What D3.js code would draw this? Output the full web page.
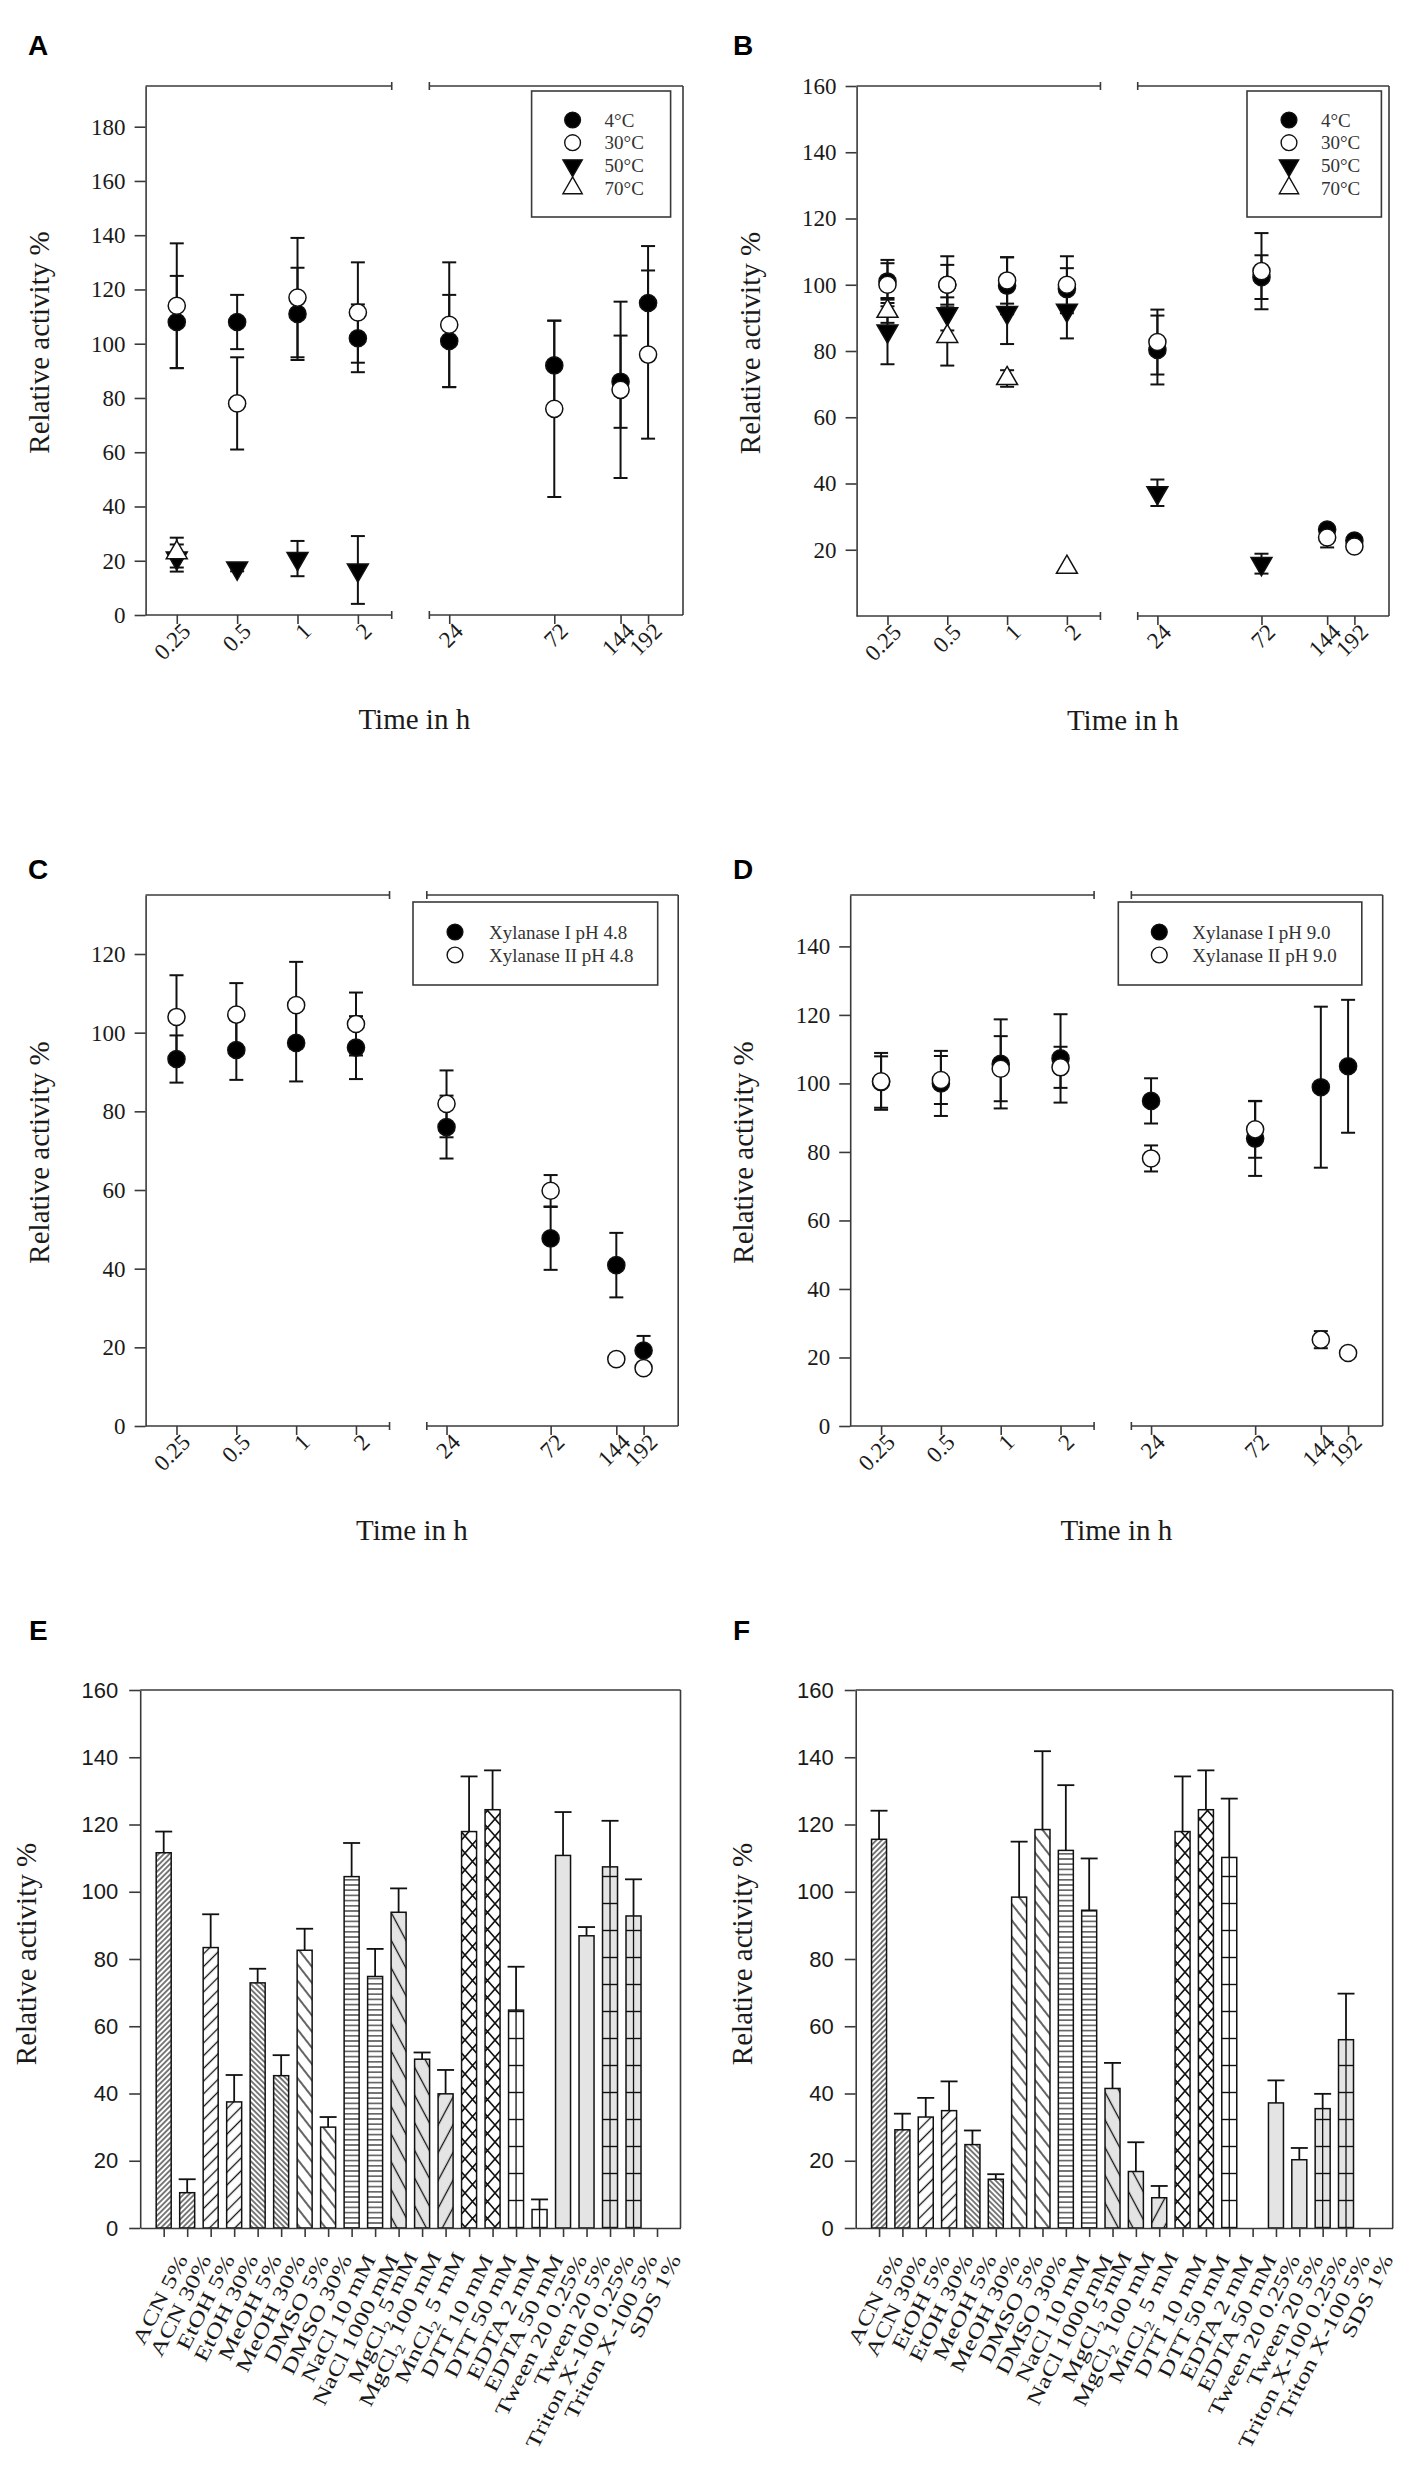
<!DOCTYPE html>
<html>
<head>
<meta charset="utf-8">
<script src="https://cdn.jsdelivr.net/npm/d3@7"></script>
<style>
  body { margin: 0; background: #fff; }
  text { fill: #1a1a1a; }
</style>
</head>
<body>
<div class="canvas"></div>
<script>
// ---------- data ----------
const times = [0.25, 0.5, 1, 2, 24, 72, 144, 192]
const timeLabels = ['0.25', '0.5', '1', '2', '24', '72', '144', '192']

// A : temperature stability
const aNames = ['4°C', '30°C', '50°C', '70°C']
const a4 = [108, 108, 111, 102, 101, 92, 86, 115]
const a4Err = [17, 10, 17, 12.5, 17, 16.5, 17, 21]
const a30 = [114, 78, 117, 111.5, 107, 76, 83, 96]
const a30Err = [23, 17, 22, 18.5, 23, 32.5, 32.5, 31]
const a50 = [21, 17.3, 20.8, 16.6, null, null, null, null]
const a50Err = [5, 1.2, 6.5, 12.5, null, null, null, null]
const a70 = [23, null, null, null, null, null, null, null]
const a70Err = [5.5, null, null, null, null, null, null, null]

// B : temperature stability
const bNames = ['4°C', '30°C', '50°C', '70°C']
const b4 = [101, 100, 99.7, 98.7, 80.3, 102.3, 26.1, 22.8]
const b4Err = [6.5, 6, 8.6, 6.3, 10.4, 6.6, 1, 1]
const b30 = [100, 100, 101.3, 100, 82.7, 104.1, 23.7, 21]
const b30Err = [6.5, 8.6, 7, 8.6, 9.8, 11.5, 3, 1]
const b50 = [86, 91.2, 91.6, 92.3, 37.2, 15.8, null, null]
const b50Err = [10, 5, 9.5, 8.5, 4, 3, null, null]
const b70 = [92, 84.4, 71.7, 14.7, null, null, null, null]
const b70Err = [3.5, 8.8, 2.5, 0.5, null, null, null, null]

// C : pH 4.8
const cNames = ['Xylanase I pH 4.8', 'Xylanase II pH 4.8']
const c1 = [93.3, 95.6, 97.4, 96.2, 76, 47.7, 40.9, 19.2]
const c1Err = [6, 7.6, 9.8, 8, 8, 8, 8.2, 3.7]
const c2 = [104, 104.6, 107, 102.2, 81.9, 59.8, 17, 14.7]
const c2Err = [10.6, 8, 11, 8, 8.5, 4, 0.5, 0.5]

// D : pH 9.0
const dNames = ['Xylanase I pH 9.0', 'Xylanase II pH 9.0']
const d1 = [100.4, 100, 105.7, 107.3, 94.9, 83.9, 98.9, 105]
const d1Err = [7.5, 9.5, 13, 12.9, 6.6, 10.9, 23.5, 19.4]
const d2 = [100.6, 101, 104.3, 104.7, 78.1, 86.6, 25.2, 21.3]
const d2Err = [8.3, 7, 9.5, 6, 3.8, 8.3, 2.5, 0.5]

// E, F : additives
const agents = ['ACN 5%', 'ACN 30%', 'EtOH 5%', 'EtOH 30%', 'MeOH 5%', 'MeOH 30%',
  'DMSO 5%', 'DMSO 30%', 'NaCl 10 mM', 'NaCl 1000 mM', 'MgCl2 5 mM', 'MgCl2 100 mM',
  'MnCl2 5 mM', 'DTT 10 mM', 'DTT 50 mM', 'EDTA 2 mM', 'EDTA 50 mM',
  'Tween 20 0.25%', 'Tween 20 5%', 'Triton X-100 0.25%', 'Triton X-100 5%', 'SDS 1%']
const eVals = [111.6, 10.5, 83.4, 37.5, 72.9, 45.3, 82.6, 30, 104.5, 74.8, 93.9, 50.2,
  39.9, 117.9, 124.4, 64.8, 5.5, 110.8, 86.9, 107.4, 92.8, 0]
const eErr = [6.3, 4, 9.9, 8, 4.2, 6.1, 6.4, 3, 10, 8.2, 7.1, 2,
  7.1, 16.4, 11.7, 12.9, 3, 12.9, 2.6, 13.7, 10.9, 0]
const fVals = [115.6, 29.2, 33, 34.9, 24.8, 14.5, 98.4, 118.5, 112.3, 94.5, 41.5, 16.8,
  9, 117.9, 124.4, 110.2, 0, 37.2, 20.3, 35.5, 56, 0]
const fErr = [8.5, 4.8, 5.7, 8.7, 4.2, 1.5, 16.5, 23.3, 19.4, 15.4, 7.6, 8.7,
  3.5, 16.4, 11.7, 17.5, 0, 6.7, 3.5, 4.4, 13.7, 0]

const yTitle = 'Relative activity %'
const xTitle = 'Time in h'

// ---------- page ----------
const W = 1421, H = 2475
const serif = '"Liberation Serif", "Times New Roman", serif'
const sans = '"Liberation Sans", Arial, sans-serif'

const svg = d3.select('.canvas').append('svg').attr('width', W).attr('height', H)
const defs = svg.append('defs')

const axisColor = '#3a3a3a'
const grey = '#e4e4e4'

// hatch patterns for the additive groups
const stripe = (id, period, angle, bg, sw) => {
  const p = defs.append('pattern').attr('id', id).attr('patternUnits', 'userSpaceOnUse')
    .attr('width', period).attr('height', period).attr('patternTransform', `rotate(${angle})`)
  p.append('rect').attr('width', period).attr('height', period).attr('fill', bg)
  p.append('line').attr('x1', -1).attr('x2', period + 1).attr('y1', period / 2).attr('y2', period / 2)
    .attr('stroke', '#111').attr('stroke-width', sw)
}
stripe('pACN', 3.8, -45, '#fff', 1.1)
stripe('pEtOH', 9, -45, '#fff', 1.3)
stripe('pMeOH', 3.8, 45, '#fff', 1.1)
stripe('pDMSO', 10, 52, '#fff', 1.3)
stripe('pNaCl', 5.2, 0, '#fff', 1.1)
stripe('pMgCl2', 13, 62, grey, 1.3)
stripe('pMnCl2', 13, -62, grey, 1.3)
stripe('pEDTA', 27, 0, '#fff', 1.4)
stripe('pTriton', 27, 0, grey, 1.4)
// cross hatch
const ch = defs.append('pattern').attr('id', 'pDTT').attr('patternUnits', 'userSpaceOnUse')
  .attr('width', 15).attr('height', 17)
ch.append('rect').attr('width', 15).attr('height', 17).attr('fill', '#fff')
ch.append('path').attr('d', 'M0,0 L15,17 M15,0 L0,17').attr('stroke', '#111').attr('stroke-width', 1.6)

const fillFor = name => {
  const g = name.split(' ')[0]
  if (g === 'Tween') return grey
  if (g === 'SDS') return '#fff'
  return `url(#p${g})`
}
const centerLine = name => ['EDTA', 'Triton'].includes(name.split(' ')[0])

// ---------- helpers ----------
const letter = (t, x, y) => svg.append('text').attr('x', x).attr('y', y).text(t)
  .attr('font-family', sans).attr('font-weight', 'bold').attr('font-size', 28).style('fill', '#000')

const yLabel = (x, y) => svg.append('text').attr('transform', `translate(${x},${y}) rotate(-90)`)
  .attr('text-anchor', 'middle').attr('font-family', serif).attr('font-size', 29).text(yTitle)

const symbols = {
  fc: { type: d3.symbolCircle, size: 230, fill: '#000', rot: 0 },
  oc: { type: d3.symbolCircle, size: 230, fill: '#fff', rot: 0 },
  ft: { type: d3.symbolTriangle, size: 190, fill: '#000', rot: 180 },
  ot: { type: d3.symbolTriangle, size: 190, fill: '#fff', rot: 0 }
}

function timePanel(cfg) {
  const { left, right, top, bottom, ymax, yticks, series, legend } = cfg
  const w = right - left
  const xl = d3.scaleLog().domain([0.25, 2]).range([left + 0.058 * w, left + 0.395 * w])
  const xr = d3.scaleLog().domain([24, 192]).range([left + 0.565 * w, left + 0.935 * w])
  const xPos = t => t <= 2 ? xl(t) : xr(t)
  const br1 = left + 0.458 * w, br2 = left + 0.528 * w
  const y = d3.scaleLinear().domain([0, ymax]).range([bottom, top])

  const g = svg.append('g')

  // frame with broken top and bottom lines
  const frame = g.append('g').attr('stroke', axisColor).attr('stroke-width', 1.6).attr('fill', 'none')
  ;[top, bottom].forEach(yy => {
    frame.append('line').attr('x1', left).attr('x2', br1).attr('y1', yy).attr('y2', yy)
    frame.append('line').attr('x1', br2).attr('x2', right).attr('y1', yy).attr('y2', yy)
    ;[br1, br2].forEach(bx => frame.append('line').attr('x1', bx).attr('x2', bx).attr('y1', yy - 4).attr('y2', yy + 4))
  })
  frame.append('line').attr('x1', right).attr('x2', right).attr('y1', top).attr('y2', bottom)

  // y axis
  const yAxis = g.append('g').attr('transform', `translate(${left},0)`)
    .call(d3.axisLeft(y).tickValues(yticks).tickSize(11).tickPadding(9).tickSizeOuter(0))
  yAxis.select('.domain').attr('stroke', axisColor).attr('stroke-width', 1.6)
  yAxis.selectAll('.tick line').attr('stroke', axisColor).attr('stroke-width', 1.6)
  yAxis.selectAll('.tick text').attr('font-family', serif).attr('font-size', 23).style('fill', '#1a1a1a')

  // x axis (two segments)
  ;[[xl, [0.25, 0.5, 1, 2]], [xr, [24, 72, 144, 192]]].forEach(([sc, vals]) => {
    const ax = g.append('g').attr('transform', `translate(0,${bottom})`)
      .call(d3.axisBottom(sc).tickValues(vals).tickSize(9).tickFormat(d => timeLabels[times.indexOf(d)]))
    ax.select('.domain').remove()
    ax.selectAll('.tick line').attr('stroke', axisColor).attr('stroke-width', 1.6)
    ax.selectAll('.tick text').attr('font-family', serif).attr('font-size', 23).style('fill', '#1a1a1a')
      .attr('text-anchor', 'end').attr('transform', 'translate(9,12) rotate(-45)').attr('dy', '0.35em').attr('y', 0)
  })

  svg.append('text').attr('x', (left + right) / 2).attr('y', bottom + 114).attr('text-anchor', 'middle')
    .attr('font-family', serif).attr('font-size', 29).text(xTitle)

  // error bars
  series.forEach(s => {
    const pts = times.map((t, i) => ({ t, v: s.vals[i], e: s.errs[i] })).filter(d => d.v !== null)
    const eb = g.append('g').attr('stroke', '#111').attr('stroke-width', 2)
    pts.filter(d => d.e > 0.6).forEach(d => {
      const cx = xPos(d.t)
      eb.append('line').attr('x1', cx).attr('x2', cx).attr('y1', y(d.v - d.e)).attr('y2', y(d.v + d.e))
      ;[d.v - d.e, d.v + d.e].forEach(v => eb.append('line').attr('x1', cx - 7).attr('x2', cx + 7).attr('y1', y(v)).attr('y2', y(v)))
    })
  })
  // markers
  series.forEach(s => {
    const sym = symbols[s.sym]
    const pts = times.map((t, i) => ({ t, v: s.vals[i] })).filter(d => d.v !== null)
    g.append('g').selectAll('path').data(pts).join('path')
      .attr('d', d3.symbol().type(sym.type).size(sym.size))
      .attr('transform', d => `translate(${xPos(d.t)},${y(d.v)}) rotate(${sym.rot})`)
      .attr('fill', sym.fill).attr('stroke', '#111').attr('stroke-width', 1.5)
  })

  // legend
  const lg = svg.append('g').attr('transform', `translate(${legend.x},${legend.y})`)
  lg.append('rect').attr('width', legend.w).attr('height', legend.h).attr('fill', '#fff')
    .attr('stroke', axisColor).attr('stroke-width', 1.6)
  series.forEach((s, i) => {
    const sym = symbols[s.sym]
    const ry = legend.row0 + i * legend.step
    lg.append('path').attr('d', d3.symbol().type(sym.type).size(sym.size * 0.85))
      .attr('transform', `translate(${legend.sx},${ry}) rotate(${sym.rot})`)
      .attr('fill', sym.fill).attr('stroke', '#111').attr('stroke-width', 1.4)
    lg.append('text').attr('x', legend.tx).attr('y', ry).attr('dy', '0.35em')
      .attr('font-family', serif).attr('font-size', 19).style('fill', '#333').text(s.name)
  })

  yLabel(left - 97, (top + bottom) / 2 - 8)
}

// ---------- panels A - D ----------
letter('A', 28, 55)
timePanel({
  left: 145.6, right: 683, top: 86, bottom: 615, ymax: 195, yticks: d3.range(0, 181, 20),
  series: [
    { name: aNames[0], vals: a4, errs: a4Err, sym: 'fc' },
    { name: aNames[1], vals: a30, errs: a30Err, sym: 'oc' },
    { name: aNames[2], vals: a50, errs: a50Err, sym: 'ft' },
    { name: aNames[3], vals: a70, errs: a70Err, sym: 'ot' }
  ],
  legend: { x: 531.6, y: 91, w: 139, h: 126, sx: 41, tx: 73, row0: 29, step: 22.7 }
})

letter('B', 733, 55)
timePanel({
  left: 856.6, right: 1389, top: 86, bottom: 616, ymax: 160, yticks: d3.range(20, 161, 20),
  series: [
    { name: bNames[0], vals: b4, errs: b4Err, sym: 'fc' },
    { name: bNames[1], vals: b30, errs: b30Err, sym: 'oc' },
    { name: bNames[2], vals: b50, errs: b50Err, sym: 'ft' },
    { name: bNames[3], vals: b70, errs: b70Err, sym: 'ot' }
  ],
  legend: { x: 1247, y: 91, w: 134.4, h: 126, sx: 42, tx: 74, row0: 29, step: 22.7 }
})

letter('C', 28, 879)
timePanel({
  left: 145.6, right: 678.2, top: 895, bottom: 1426, ymax: 135, yticks: d3.range(0, 121, 20),
  series: [
    { name: cNames[0], vals: c1, errs: c1Err, sym: 'fc' },
    { name: cNames[1], vals: c2, errs: c2Err, sym: 'oc' }
  ],
  legend: { x: 413, y: 902, w: 244.7, h: 83, sx: 42, tx: 76, row0: 30, step: 23 }
})

letter('D', 733, 879)
timePanel({
  left: 850.2, right: 1382.7, top: 895, bottom: 1426, ymax: 155, yticks: d3.range(0, 141, 20),
  series: [
    { name: dNames[0], vals: d1, errs: d1Err, sym: 'fc' },
    { name: dNames[1], vals: d2, errs: d2Err, sym: 'oc' }
  ],
  legend: { x: 1118.3, y: 902, w: 243.5, h: 83, sx: 41, tx: 74, row0: 30, step: 23 }
})

// ---------- panels E, F ----------
function barPanel(cfg) {
  const { left, right, top, bottom, vals, errs } = cfg
  const x = d3.scalePoint().domain(agents).range([left, right]).padding(1)
  const y = d3.scaleLinear().domain([0, 160]).range([bottom, top])
  const bw = 15
  const g = svg.append('g')

  g.append('line').attr('x1', left).attr('x2', right).attr('y1', top).attr('y2', top)
    .attr('stroke', axisColor).attr('stroke-width', 1.6)
  g.append('line').attr('x1', right).attr('x2', right).attr('y1', top).attr('y2', bottom)
    .attr('stroke', axisColor).attr('stroke-width', 1.6)

  const data = agents.map((a, i) => ({ a, v: vals[i], e: errs[i] }))

  // error bars (upper only)
  const eb = g.append('g').attr('stroke', '#111').attr('stroke-width', 1.8)
  data.filter(d => d.e > 0).forEach(d => {
    const cx = x(d.a)
    eb.append('line').attr('x1', cx).attr('x2', cx).attr('y1', y(d.v)).attr('y2', y(d.v + d.e))
    eb.append('line').attr('x1', cx - 8.5).attr('x2', cx + 8.5).attr('y1', y(d.v + d.e)).attr('y2', y(d.v + d.e))
  })

  g.append('g').selectAll('rect').data(data.filter(d => d.v > 0)).join('rect')
    .attr('x', d => x(d.a) - bw / 2).attr('width', bw)
    .attr('y', d => y(d.v)).attr('height', d => bottom - y(d.v))
    .attr('fill', d => fillFor(d.a)).attr('stroke', '#111').attr('stroke-width', 1.5)

  g.append('g').selectAll('line').data(data.filter(d => d.v > 0 && centerLine(d.a))).join('line')
    .attr('x1', d => x(d.a)).attr('x2', d => x(d.a)).attr('y1', d => y(d.v)).attr('y2', bottom)
    .attr('stroke', '#111').attr('stroke-width', 1.3)

  const yAxis = g.append('g').attr('transform', `translate(${left},0)`)
    .call(d3.axisLeft(y).tickValues(d3.range(0, 161, 20)).tickSize(11).tickPadding(11).tickSizeOuter(0))
  yAxis.select('.domain').attr('stroke', axisColor).attr('stroke-width', 1.6)
  yAxis.selectAll('.tick line').attr('stroke', axisColor).attr('stroke-width', 1.6)
  yAxis.selectAll('.tick text').attr('font-family', sans).attr('font-size', 22).style('fill', '#1a1a1a')

  const xAxis = g.append('g').attr('transform', `translate(0,${bottom})`)
    .call(d3.axisBottom(x).tickSize(9).tickSizeOuter(0))
  xAxis.select('.domain').attr('stroke', axisColor).attr('stroke-width', 1.6)
  xAxis.selectAll('.tick line').attr('stroke', axisColor).attr('stroke-width', 1.6)
  xAxis.selectAll('.tick text').remove()
  xAxis.selectAll('.tick').each(function (d) {
    const t = d3.select(this).append('text')
      .attr('text-anchor', 'end').attr('font-family', serif).attr('font-size', 26.5)
      .attr('transform', 'translate(24,31) rotate(-63) scale(1,0.77)')
      .style('fill', '#1a1a1a')
    const m = d.match(/^(.*Cl)2(.*)$/)
    if (m) {
      t.append('tspan').text(m[1])
      t.append('tspan').text('2').attr('font-size', 17).attr('dy', '0.3em')
      t.append('tspan').text(m[2]).attr('dy', '-0.45em')
    } else t.text(d)
  })

  yLabel(left - 104, (top + bottom) / 2 - 5)
}

letter('E', 29, 1640)
barPanel({ left: 140.2, right: 680.5, top: 1690, bottom: 2228, vals: eVals, errs: eErr })

letter('F', 733, 1640)
barPanel({ left: 855.7, right: 1392.7, top: 1690, bottom: 2228, vals: fVals, errs: fErr })
</script>
</body>
</html>
